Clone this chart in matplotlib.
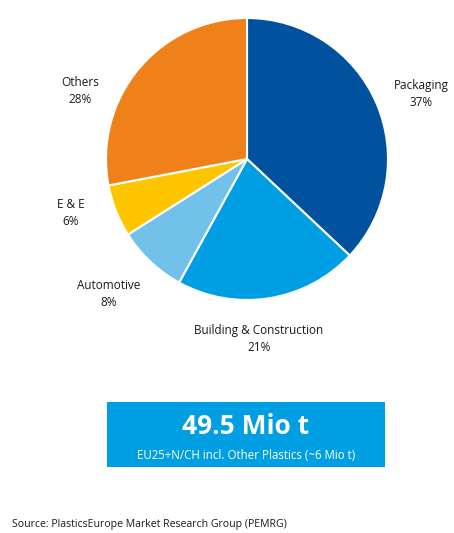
import numpy as np
import matplotlib.pyplot as plt

# data
segments = ['Packaging', 'Building & Construction', 'Automotive', 'E & E', 'Others']
shares = [37, 21, 8, 6, 28]
colours = ['#00519E', '#009FE3', '#71C1EA', '#FFC600', '#F08019']
total_label = '49.5 Mio t'
total_note = 'EU25+N/CH incl. Other Plastics (~6 Mio t)'
source = 'Source: PlasticsEurope Market Research Group (PEMRG)'

# label centres in pixels (layout only)
label_pos = [(421, 94), (259, 339), (109, 294), (71, 213), (80, 91)]

W, H = 454, 533
fig = plt.figure(figsize=(W / 100, H / 100), dpi=100)
plt.rcParams['font.family'] = ['Open Sans', 'DejaVu Sans']

def fx(x):
	return x / W

def fy(y):
	return 1 - y / H

# pie
cx, cy, r = 247, 159, 141
ax = fig.add_axes([fx(cx - r), fy(cy + r), 2 * r / W, 2 * r / H])
ax.pie(shares, colors=colours, startangle=90, counterclock=False,
	wedgeprops=dict(edgecolor='white', linewidth=1.5))
ax.set_aspect('auto')
ax.set_xlim(-1, 1)
ax.set_ylim(-1, 1)
ax.axis('off')

for name, val, (x, y) in zip(segments, shares, label_pos):
	fig.text(fx(x), fy(y), name + '\n' + str(val) + '%', ha='center', va='center',
		fontsize=8.5, color='#1a1a1a', linespacing=1.35)

# total box
box = fig.add_axes([fx(107), fy(467), (385 - 107) / W, (467 - 402) / H])
box.set_facecolor('#009FE3')
box.set_xticks([])
box.set_yticks([])
for s in box.spines.values():
	s.set_visible(False)
box.text(0.5, 0.62, total_label, ha='center', va='center', fontsize=19,
	fontweight='bold', color='white', transform=box.transAxes)
box.text(0.5, 0.17, total_note, ha='center', va='center', fontsize=8.3,
	color='white', transform=box.transAxes)

fig.text(fx(12), fy(524), source, ha='left', va='center', fontsize=7.6, color='#1a1a1a')

plt.savefig('out.png', dpi=100)
